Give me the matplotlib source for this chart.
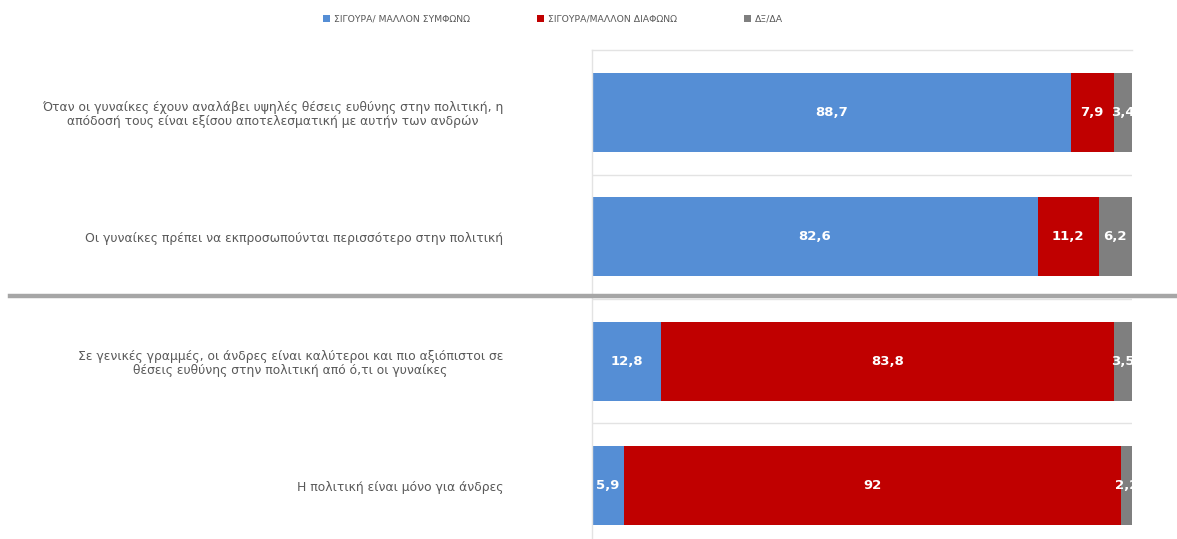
import matplotlib.pyplot as plt
from matplotlib.patches import Patch
from matplotlib.lines import Line2D

# survey statements and shares (%)
labels = [
    "Όταν οι γυναίκες έχουν αναλάβει υψηλές θέσεις ευθύνης στην πολιτική, η\n"
    "απόδοσή τους είναι εξίσου αποτελεσματική με αυτήν των ανδρών",
    "Οι γυναίκες πρέπει να εκπροσωπούνται περισσότερο στην πολιτική",
    "Σε γενικές γραμμές, οι άνδρες είναι καλύτεροι και πιο αξιόπιστοι σε\n"
    "θέσεις ευθύνης στην πολιτική από ό,τι οι γυναίκες",
    "Η πολιτική είναι μόνο για άνδρες",
]
agree = [88.7, 82.6, 12.8, 5.9]
disagree = [7.9, 11.2, 83.8, 92]
dkna = [3.4, 6.2, 3.5, 2.2]
value_text = {
    "agree": ["88,7", "82,6", "12,8", "5,9"],
    "disagree": ["7,9", "11,2", "83,8", "92"],
    "dkna": ["3,4", "6,2", "3,5", "2,2"],
}
series_names = ["ΣΙΓΟΥΡΑ/ ΜΑΛΛΟΝ ΣΥΜΦΩΝΩ", "ΣΙΓΟΥΡΑ/ΜΑΛΛΟΝ ΔΙΑΦΩΝΩ", "ΔΞ/ΔΑ"]
colors = ["#558ED5", "#C00000", "#7F7F7F"]

W, H = 1177, 539
fig = plt.figure(figsize=(W / 100, H / 100), dpi=100)
ax = fig.add_axes([592 / W, 1 - 547.7 / H, 540 / W, (547.7 - 50.3) / H])

y = list(range(len(labels)))
left = [0] * len(labels)
for key, vals, col in zip(["agree", "disagree", "dkna"], [agree, disagree, dkna], colors):
    bars = ax.barh(y, vals, left=left, height=0.636, color=col, edgecolor="none")
    for i, b in enumerate(bars):
        ax.text(left[i] + vals[i] / 2, i, value_text[key][i], ha="center", va="center",
                color="white", fontsize=9.5, fontweight="bold", clip_on=True)
    left = [l + v for l, v in zip(left, vals)]

ax.set_xlim(0, 100)
ax.set_ylim(3.5, -0.5)
ax.set_xticks([])
ax.set_yticks(y)
ax.set_yticklabels(labels, fontsize=8.9, color="#595959", multialignment="center",
                   linespacing=1.1)
ax.tick_params(axis="y", length=0, pad=64)
ax.set_yticks([0.5, 1.5, 2.5], minor=True)
ax.tick_params(axis="y", which="minor", length=0)
ax.grid(axis="y", which="minor", color="#e3e3e3", linewidth=1)
ax.set_axisbelow(True)
for s in ["right", "bottom"]:
    ax.spines[s].set_visible(False)
for s in ["left", "top"]:
    ax.spines[s].set_color("#e3e3e3")
    ax.spines[s].set_linewidth(1)

# thick separator between the two groups
fig.add_artist(Line2D([10 / W, 1.0], [1 - 296 / H] * 2, color="#a6a6a6", linewidth=3.2,
                      transform=fig.transFigure))

handles = [Patch(facecolor=c, edgecolor="none") for c in colors]
fig.legend(handles, series_names, loc="center", bbox_to_anchor=(553 / W, 1 - 19 / H), ncol=3,
           frameon=False, fontsize=6.7, labelcolor="#595959", handlelength=0.8,
           handleheight=0.8, handletextpad=0.4, columnspacing=7.2)

fig.savefig("out.png", dpi=100)
